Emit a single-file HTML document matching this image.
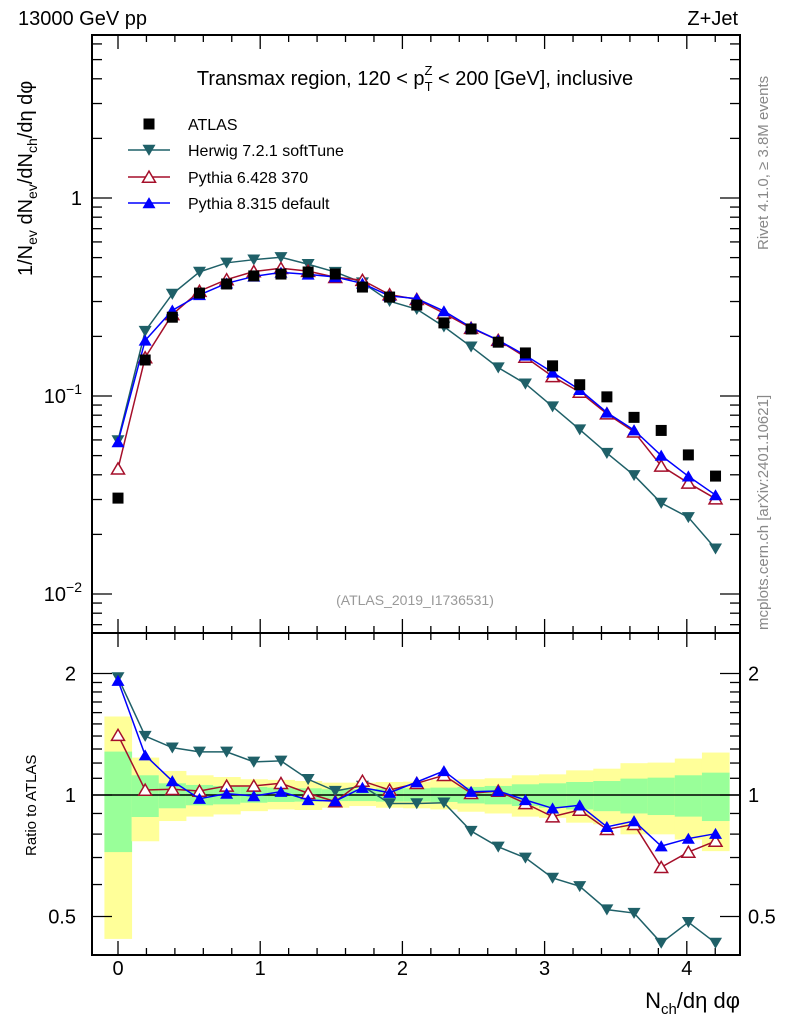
<!DOCTYPE html>
<html><head><meta charset="utf-8"><style>
html,body{margin:0;padding:0;background:#fff;}
svg{display:block;font-family:"Liberation Sans",sans-serif;}
</style></head><body>
<svg id="c" width="786" height="1024" viewBox="0 0 786 1024"><defs><clipPath id="mainclip"><rect x="92" y="35" width="648" height="598"/></clipPath></defs></svg>
<script>
const xs = [0,1,2,3,4,5,6,7,8,9,10,11,12,13,14,15,16,17,18,19,20,21,22];
const binWidth = 0.191;
const atlas = [0.0305,0.152,0.25,0.331,0.368,0.404,0.413,0.423,0.413,0.355,0.316,0.288,0.234,0.218,0.187,0.165,0.142,0.114,0.099,0.078,0.067,0.0504,0.0394];
const herwigRatio = [1.956,1.40,1.31,1.279,1.279,1.208,1.215,1.094,1.023,1.053,0.953,0.953,0.957,0.814,0.744,0.699,0.623,0.594,0.520,0.510,0.430,0.484,0.430];
const py6Ratio = [1.407,1.029,1.033,1.023,1.053,1.053,1.069,1.01,0.963,1.083,1.029,1.069,1.119,1.01,1.023,0.953,0.884,0.918,0.822,0.846,0.662,0.722,0.769];
const py8Ratio = [1.92,1.255,1.083,0.979,1.008,0.994,1.019,0.972,0.966,1.043,1.013,1.077,1.147,1.019,1.023,0.972,0.927,0.943,0.834,0.862,0.747,0.78,0.802];
const yelUp = [1.565,1.238,1.147,1.119,1.108,1.094,1.09,1.083,1.073,1.073,1.077,1.079,1.09,1.094,1.1,1.119,1.125,1.151,1.162,1.199,1.203,1.231,1.274];
const yelLo = [0.44,0.768,0.862,0.884,0.895,0.912,0.921,0.918,0.93,0.939,0.93,0.927,0.921,0.909,0.9,0.884,0.878,0.854,0.846,0.799,0.799,0.776,0.726];
const grnUp = [1.281,1.119,1.069,1.059,1.053,1.047,1.043,1.039,1.033,1.033,1.037,1.039,1.043,1.047,1.053,1.063,1.069,1.077,1.083,1.098,1.104,1.119,1.136];
const grnLo = [0.722,0.882,0.927,0.943,0.948,0.957,0.961,0.963,0.966,0.966,0.963,0.963,0.961,0.953,0.948,0.939,0.930,0.921,0.912,0.9,0.892,0.884,0.862];

const NS="http://www.w3.org/2000/svg";
const svg=document.getElementById('c');
function el(tag,attrs,parent){const e=document.createElementNS(NS,tag);for(const k in attrs)e.setAttribute(k,attrs[k]);(parent||svg).appendChild(e);return e;}
const L=92,R=740,T=35,MB=633,RB=955;
const X=v=>118+v*142.2;
const Ym=v=>198-198*Math.log10(v);
const Yr=v=>795-121.5*Math.log2(v);
const xv=i=>xs[i]*binWidth;

// ratio bands
const gb=el('g',{});


xs.forEach((_,i)=>{
  const x0=X(xv(i)-binWidth/2),x1=X(xv(i)+binWidth/2);
  const y=el('rect',{x:x0,y:Yr(yelUp[i]),width:x1-x0+0.5,height:Yr(yelLo[i])-Yr(yelUp[i]),fill:'#ffff99'},gb);
  
  
  const g=el('rect',{x:x0,y:Yr(grnUp[i]),width:x1-x0+0.5,height:Yr(grnLo[i])-Yr(grnUp[i]),fill:'#99ff99'},gb);
  
  
});
el('line',{x1:L,x2:R,y1:Yr(1),y2:Yr(1),stroke:'#000','stroke-width':1.5});

// frames
el('rect',{x:L,y:T,width:R-L,height:MB-T,fill:'none',stroke:'#000','stroke-width':2});
el('rect',{x:L,y:MB,width:R-L,height:RB-MB,fill:'none',stroke:'#000','stroke-width':2});

// x ticks
for(let k=-0.4;k<=4.41;k+=0.2){
  const v=Math.round(k*10)/10; const x=X(v); if(x<L||x>R)continue;
  const major=Math.abs(v-Math.round(v))<1e-6; const len=major?14:7;
  [[MB,-1],[T,1],[RB,-1],[MB,1]].forEach(([y,d])=>el('line',{x1:x,x2:x,y1:y,y2:y+d*len,stroke:'#000','stroke-width':1.3}));
}
[0,1,2,3,4].forEach(v=>{const t=el('text',{x:X(v),y:975,'font-size':20,'text-anchor':'middle'});t.textContent=v;});

// main y ticks
for(let d=-3;d<=1;d++)for(let m=1;m<=9;m++){
  const v=m*Math.pow(10,d);const y=Ym(v);if(y<T||y>MB)continue;
  const len=m===1?20:10;
  el('line',{x1:L,x2:L+len,y1:y,y2:y,stroke:'#000','stroke-width':1.3});
  el('line',{x1:R,x2:R-len,y1:y,y2:y,stroke:'#000','stroke-width':1.3});
}
function ylab(x,y,html,name){const t=el('text',{x:x,y:y,'font-size':20,'text-anchor':'end'});t.innerHTML=html;}
ylab(82,205,'1','y-tick-1');
ylab(82,403,'10<tspan dy="-9" font-size="14">−1</tspan>','y-tick-0.1');
ylab(82,601,'10<tspan dy="-9" font-size="14">−2</tspan>','y-tick-0.01');

// ratio y ticks
[0.5,0.6,0.7,0.8,0.9,1,1.1,1.2,1.3,1.4,1.5,1.6,1.7,1.8,1.9,2].forEach(v=>{
  const y=Yr(v);const len=(v===0.5||v===1||v===2)?20:10;
  el('line',{x1:L,x2:L+len,y1:y,y2:y,stroke:'#000','stroke-width':1.3});
  el('line',{x1:R,x2:R-len,y1:y,y2:y,stroke:'#000','stroke-width':1.3});
});
[[2,'2'],[1,'1'],[0.5,'0.5']].forEach(([v,s])=>{
  ylab(76,Yr(v)+7,s,'ratio-tick-left');
  const t=el('text',{x:748,y:Yr(v)+7,'font-size':20});t.textContent=s;
});

// markers
function marker(type,x,y,color,parent){
  const s=6.5;
  if(type==='sq')return el('rect',{x:x-5.5,y:y-5.5,width:11,height:11,fill:'#000'},parent);
  if(type==='down')return el('polygon',{points:`${x-s},${y-s*0.8} ${x+s},${y-s*0.8} ${x},${y+s*0.9}`,fill:color},parent);
  if(type==='up')return el('polygon',{points:`${x-s},${y+s*0.8} ${x+s},${y+s*0.8} ${x},${y-s*0.9}`,fill:color},parent);
  if(type==='upo')return el('polygon',{points:`${x-s},${y+s*0.8} ${x+s},${y+s*0.8} ${x},${y-s*0.9}`,fill:'#fff',stroke:color,'stroke-width':1.5},parent);
}
const series=[
  {name:'herwig',ratio:herwigRatio,color:'#1f6068',m:'down'},
  {name:'pythia6',ratio:py6Ratio,color:'#a50f2a',m:'upo'},
  {name:'pythia8',ratio:py8Ratio,color:'#0000ff',m:'up'}
];
series.forEach(s=>{
  const gm=el('g',{'clip-path':'url(#mainclip)'});
  
  
  const gr=el('g',{});
  
  
  const pm=xs.map((_,i)=>[X(xv(i)),Ym(s.ratio[i]*atlas[i])]);
  const pr=xs.map((_,i)=>[X(xv(i)),Yr(s.ratio[i])]);
  el('polyline',{points:pm.map(p=>p.join(',')).join(' '),fill:'none',stroke:s.color,'stroke-width':1.5},gm);
  el('polyline',{points:pr.map(p=>p.join(',')).join(' '),fill:'none',stroke:s.color,'stroke-width':1.5},gr);
  pm.forEach(p=>{const m=marker(s.m,p[0],p[1],s.color,gm);});
  pr.forEach(p=>{const m=marker(s.m,p[0],p[1],s.color,gr);});
});
const ga=el('g',{'clip-path':'url(#mainclip)'});


atlas.forEach((v,i)=>{const m=marker('sq',X(xv(i)),Ym(v),'#000',ga);});

// legend
const lg=el('g',{});


const legend=[['sq','#000','ATLAS',124],['down','#1f6068','Herwig 7.2.1 softTune',150],['upo','#a50f2a','Pythia 6.428 370',177],['up','#0000ff','Pythia 8.315 default',203]];
legend.forEach(([m,c,txt,y])=>{
  const e=el('g',{},lg);
  
  
  if(m!=='sq')el('line',{x1:128,x2:170,y1:y,y2:y,stroke:c,'stroke-width':1.5},e);
  marker(m,149,y,c,e);
  const t=el('text',{x:188,y:y+6,'font-size':16},e);t.textContent=txt;
});
</script>
<svg width="786" height="1024" style="position:absolute;left:0;top:0;font-family:'Liberation Sans',sans-serif">
<text x="18" y="25" font-size="20">13000 GeV pp</text>
<text x="738" y="25" font-size="20" text-anchor="end">Z+Jet</text>
<text x="415" y="85" font-size="20" text-anchor="middle">Transmax region, 120 &lt; p<tspan dy="6" font-size="13">T</tspan><tspan dx="-8" dy="-16" font-size="13">Z</tspan><tspan dy="10"> &lt; 200 [GeV], inclusive</tspan></text>
<text x="415" y="605" font-size="14" fill="#999" text-anchor="middle">(ATLAS_2019_I1736531)</text>
<text transform="translate(768,250) rotate(-90)" font-size="15" fill="#888">Rivet 4.1.0, ≥ 3.8M events</text>
<text transform="translate(768,630) rotate(-90)" font-size="15" fill="#888">mcplots.cern.ch [arXiv:2401.10621]</text>
<text transform="translate(32,276) rotate(-90)" font-size="20">1/N<tspan dy="5" font-size="14">ev</tspan><tspan dy="-5"> dN</tspan><tspan dy="5" font-size="14">ev</tspan><tspan dy="-5">/dN</tspan><tspan dy="5" font-size="14">ch</tspan><tspan dy="-5">/dη dφ</tspan></text>
<text transform="translate(36,856) rotate(-90)" font-size="15">Ratio to ATLAS</text>
<text x="740" y="1008" font-size="22" text-anchor="end">N<tspan dy="6" font-size="15">ch</tspan><tspan dy="-6">/dη dφ</tspan></text>
</svg>
</body></html>
